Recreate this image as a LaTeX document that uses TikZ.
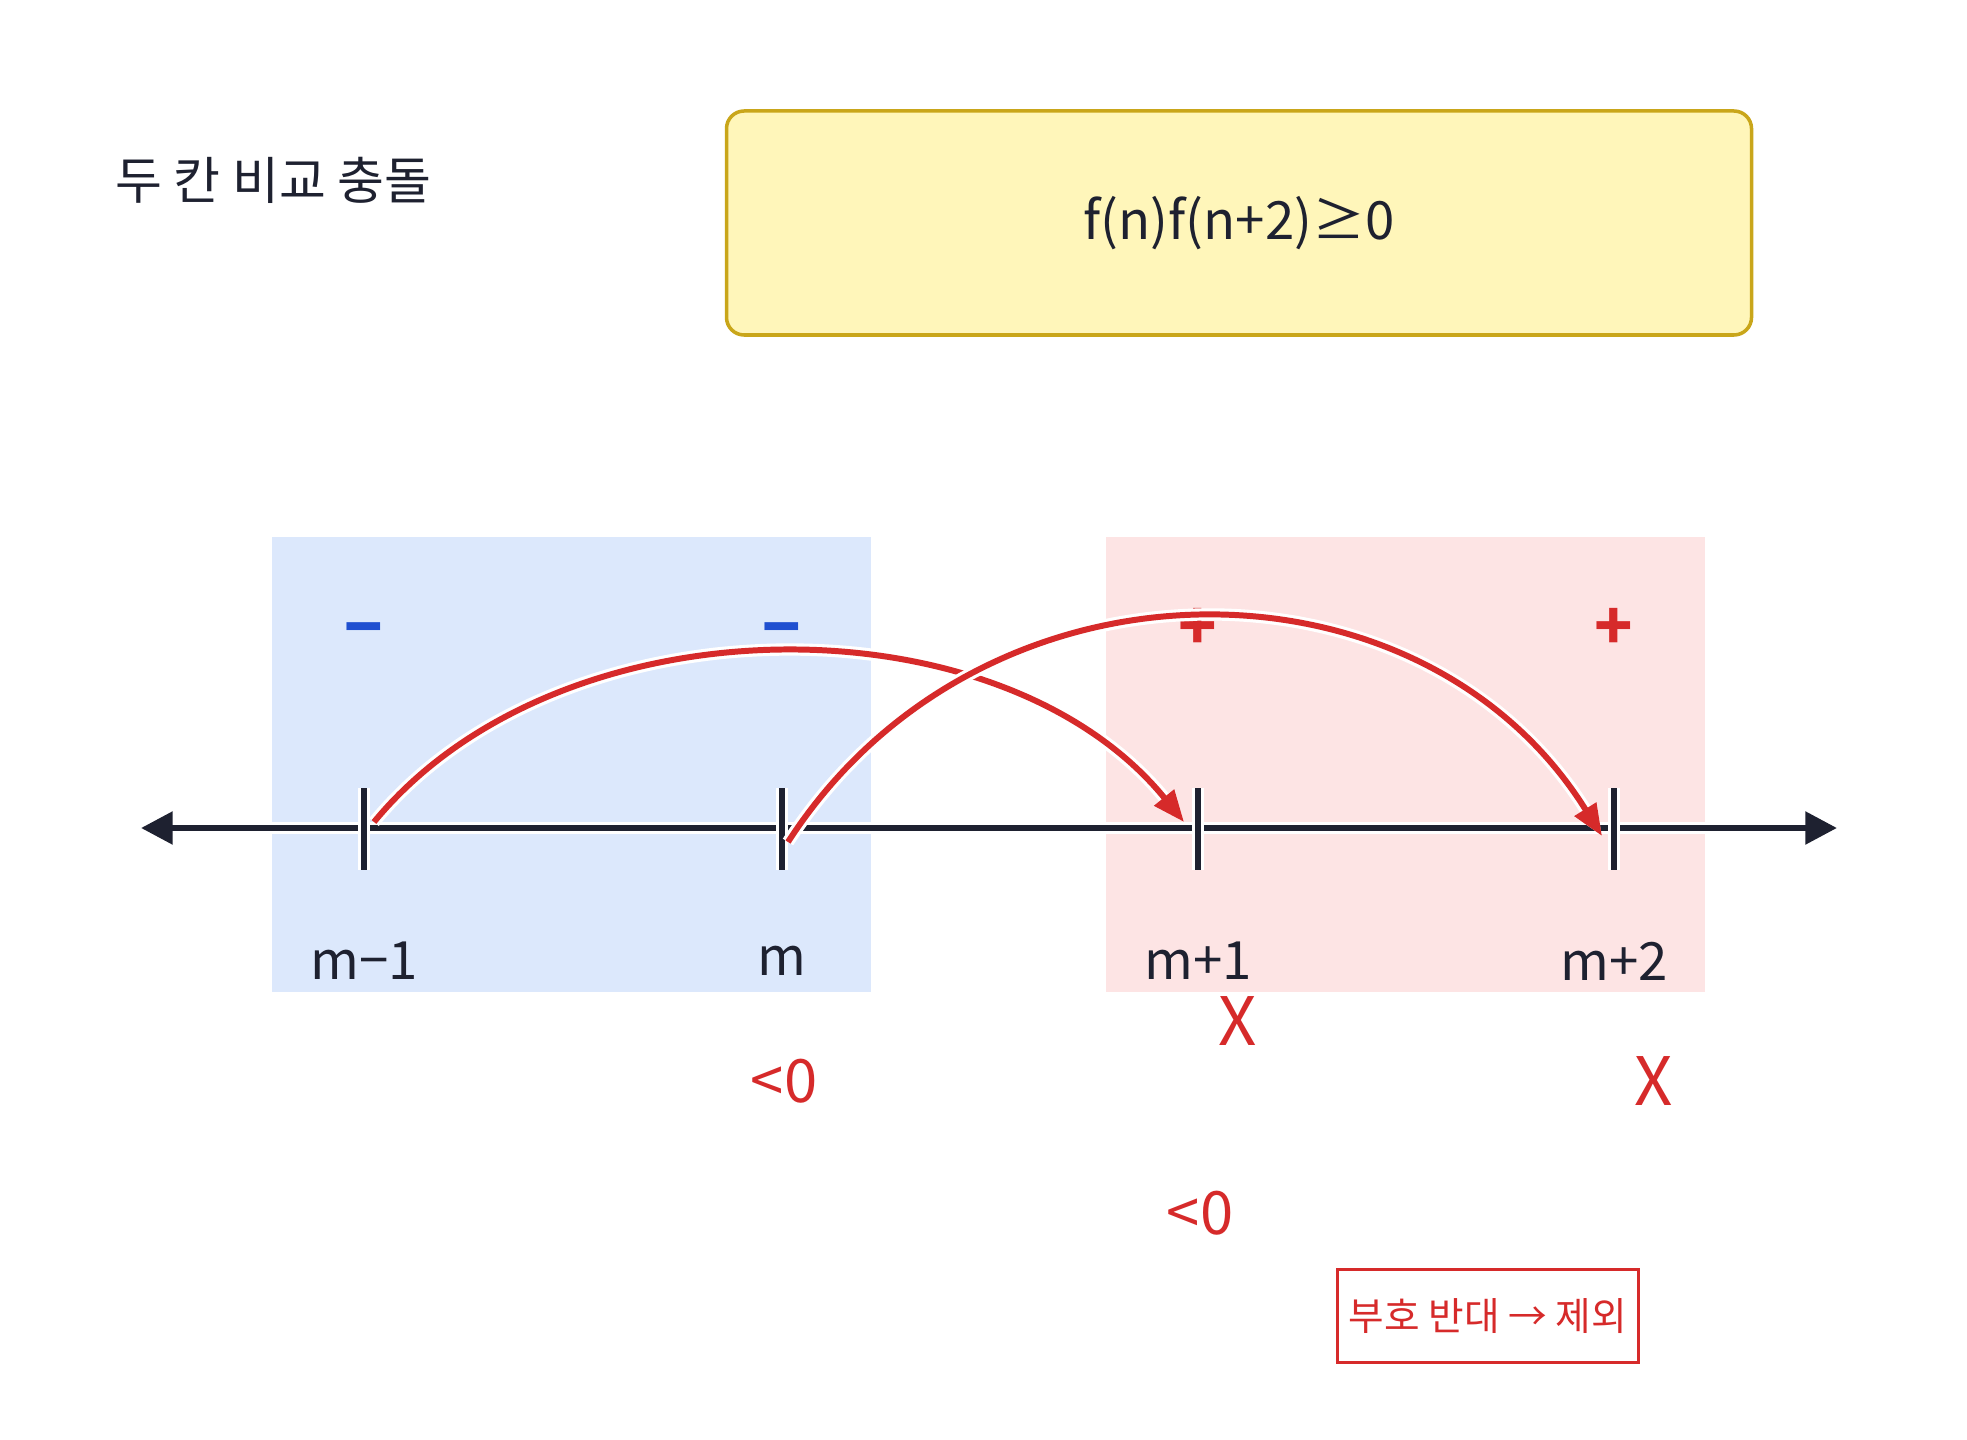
\documentclass[tikz,border=0pt]{standalone}
\usepackage{fontspec}
\setmainfont{Noto Sans CJK KR}
\usepackage{xcolor}
\usepackage{tikz}
\usetikzlibrary{arrows.meta}

\definecolor{inkdark}{HTML}{1E2130}
\definecolor{inkred}{HTML}{D62A2A}
\definecolor{inkblue}{HTML}{1F4FD0}
\definecolor{negfill}{HTML}{DCE8FC}
\definecolor{posfill}{HTML}{FDE4E4}
\definecolor{notefill}{HTML}{FFF6BA}
\definecolor{notedraw}{HTML}{C9A61A}

\tikzset{
    axisline/.style={draw=inkdark, line width=1.8pt, preaction={draw=white, line width=3.6pt}},
    tickline/.style={draw=inkdark, line width=1.6pt, preaction={draw=white, line width=3.4pt}},
    jumparrow/.style={draw=inkred, line width=1.7pt, preaction={draw=white, line width=3.5pt},
        -{Triangle[length=9pt,width=7pt]}},
    ticklabel/.style={text=inkdark, font=\fontsize{15}{18}\selectfont},
    signmark/.style={font=\fontsize{18}{20}\selectfont\bfseries},
    redmark/.style={text=inkred, font=\fontsize{17}{20}\selectfont}
}

\begin{document}
\begin{tikzpicture}[x=0.01cm, y=-0.01cm]
        % Two-step sign comparison
        \useasboundingbox (0,0) rectangle (1967,1440);
        \node[anchor=west, text=inkdark, font=\fontsize{14.5}{18}\selectfont] (title) at (103,180) {두 칸 비교 충돌};
        \node[draw=notedraw, fill=notefill, line width=1pt, rounded corners=5pt,
              minimum width=1025*0.01cm, minimum height=224*0.01cm,
              font=\fontsize{15}{18}\selectfont, text=inkdark] (rule) at (1239,223) {f(n)f(n+2)≥0};
        \fill[negfill] (272,537) rectangle (871,992);
        \fill[posfill] (1106,537) rectangle (1705,992);
        \coordinate (lend) at (141,828);
        \coordinate (rend) at (1837,828);
        \draw[axisline, {Triangle[length=9pt,width=9pt]}-{Triangle[length=9pt,width=9pt]}] (lend) -- (rend);
        \foreach \x/\n/\lab in {364/t1/m−1, 782/t2/m, 1198/t3/m+1, 1614/t4/m+2} {
            \coordinate (\n) at (\x,828);
            \draw[tickline] (\x,788) -- (\x,870);
            \node[ticklabel] (\n lab) at (\x,961) {\lab};
        }
        \foreach \x/\n/\s/\c/\y in {364/s1/−/inkblue/637, 782/s2/−/inkblue/637, 1198/s3/+/inkred/629, 1614/s4/+/inkred/629} {
            \node[signmark, text=\c] (\n) at (\x,\y) {\s};
        }
        \draw[jumparrow] ([shift={(10,-6)}]t1) .. controls (560,596) and (1000,596) .. ([shift={(-14,-6)}]t3);
        \draw[jumparrow] ([shift={(6,14)}]t2) .. controls (980,544) and (1420,544) .. ([shift={(-12,8)}]t4);
        \node[redmark, font=\fontsize{19}{22}\selectfont] (x1) at (1238,1021) {X};
        \node[redmark, font=\fontsize{19}{22}\selectfont] (x2) at (1654,1081) {X};
        \node[redmark] (neg1) at (784,1081) {<0};
        \node[redmark] (neg2) at (1200,1213) {<0};
        \node[draw=inkred, line width=0.9pt, text=inkred, minimum width=299*0.01cm, minimum height=93*0.01cm,
              font=\fontsize{11}{13}\selectfont] (drop) at (1488,1316) {부호 반대 → 제외};
    \end{tikzpicture}
\end{document}
